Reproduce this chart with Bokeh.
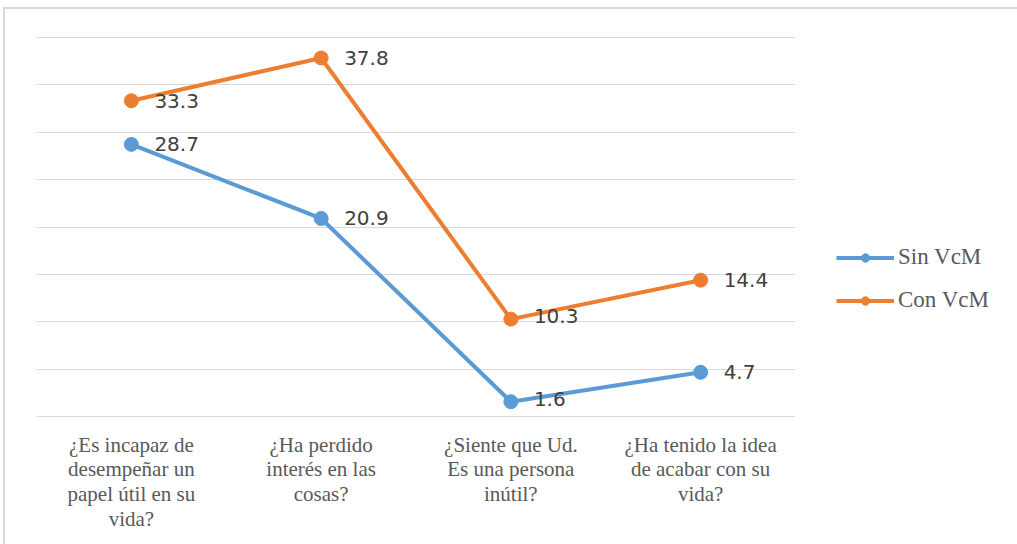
from bokeh.plotting import figure
from bokeh.models import ColumnDataSource, Legend, LegendItem, FactorRange, SingleIntervalTicker, Range1d
from bokeh.layouts import row
from bokeh.core.properties import value
from bokeh.embed import file_html
from bokeh.resources import INLINE

categories = [
    "¿Es incapaz de\ndesempeñar un\npapel útil en su\nvida?",
    "¿Ha perdido\ninterés en las\ncosas?",
    "¿Siente que Ud.\nEs una persona\ninútil?",
    "¿Ha tenido la idea\nde acabar con su\nvida?",
]
sin_vcm = [28.7, 20.9, 1.6, 4.7]
con_vcm = [33.3, 37.8, 10.3, 14.4]
series_names = ["Sin VcM", "Con VcM"]
colors = ["#5B9BD5", "#ED7D31"]
label_dy = [[0, 0, -3, 0], [0, 0, -3, 0]]

p = figure(width=790, height=537, x_range=FactorRange(*categories), y_range=(-0.06, 40.06),
           output_backend="svg", toolbar_location=None,
           min_border_left=31, min_border_right=0, min_border_top=27, min_border_bottom=129)
p.outline_line_color = None
p.xgrid.grid_line_color = None
p.ygrid.grid_line_color = "#d9d9d9"
p.ygrid.grid_line_width = 1
p.yaxis.visible = False
p.yaxis.ticker = SingleIntervalTicker(interval=5)
p.ygrid.ticker = SingleIntervalTicker(interval=5)
p.x_range.range_padding = 0
p.xaxis.axis_line_color = None
p.xaxis.major_tick_line_color = None
p.xaxis.minor_tick_line_color = None
p.xaxis.major_label_text_font = "Liberation Serif"
p.xaxis.major_label_text_font_size = "21px"
p.xaxis.major_label_text_color = "#595959"
p.xaxis.major_label_text_line_height = 1.04
p.xaxis.major_label_standoff = 9

# legend panel (its copies of the series sit outside its visible y range)
q = figure(width=222, height=537, x_range=FactorRange(*categories), y_range=Range1d(1000, 1001),
           output_backend="svg", toolbar_location=None,
           min_border_left=0, min_border_right=0, min_border_top=0, min_border_bottom=0)
q.axis.visible = False
q.grid.grid_line_color = None
q.outline_line_color = None

items = []
for name, vals, col, dys in zip(series_names, [sin_vcm, con_vcm], colors, label_dy):
    src = ColumnDataSource(dict(x=categories, y=vals, t=[f"{v:.1f}" for v in vals], dy=dys))
    p.line("x", "y", source=src, line_color=col, line_width=4)
    p.scatter("x", "y", source=src, size=14, fill_color=col, line_color=col)
    p.text("x", "y", text="t", source=src, x_offset=23, y_offset="dy",
           text_font=value("DejaVu Sans"), text_font_size="20px", text_color="#404040",
           text_baseline="middle", text_align="left")
    ln = q.line("x", "y", source=src, line_color=col, line_width=4)
    sc = q.scatter("x", "y", source=src, size=12, fill_color=col, line_color=col)
    items.append(LegendItem(label=name, renderers=[ln, sc]))

legend = Legend(items=items, location=(41, 104), orientation="vertical",
                glyph_width=58, glyph_height=21, label_height=21, spacing=17,
                padding=0, margin=0, label_standoff=4,
                label_text_font="Liberation Serif", label_text_font_size="23px",
                label_text_color="#595959", background_fill_alpha=0, border_line_color=None)
q.add_layout(legend, "center")

layout = row(p, q)
layout.styles = {"border-top": "2px solid #d9d9d9", "border-left": "2px solid #d9d9d9",
                 "margin-left": "3px", "margin-top": "7px"}

open("out.html", "w").write(file_html(layout, INLINE))
